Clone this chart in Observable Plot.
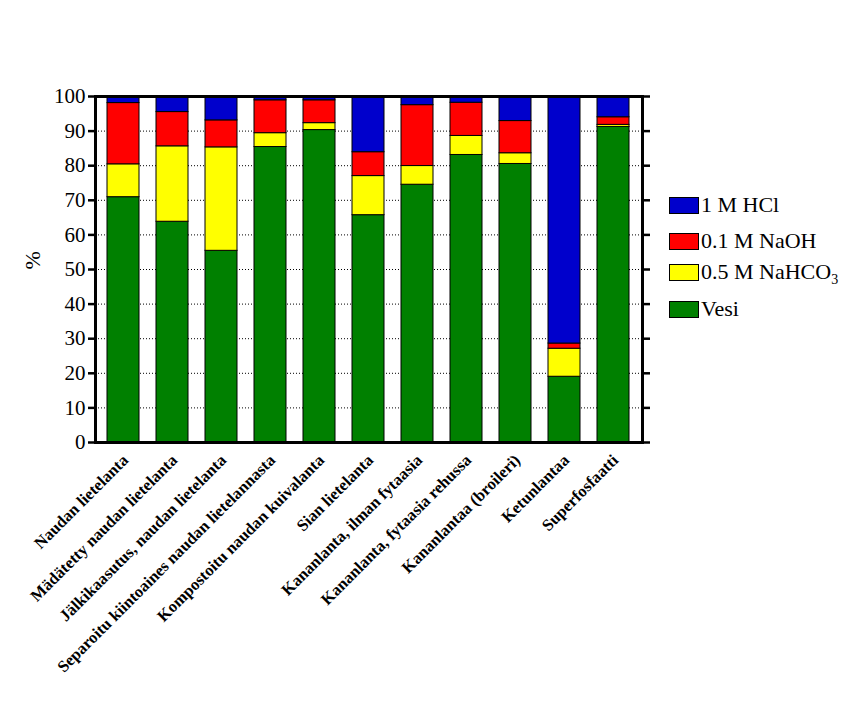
<!DOCTYPE html>
<html>
<head>
<meta charset="utf-8">
<script src="https://cdn.jsdelivr.net/npm/d3@7"></script>
<script src="https://cdn.jsdelivr.net/npm/@observablehq/plot@0.6"></script>
<style>
  body { margin: 0; background: #fff; }
  #wrap { position: relative; width: 856px; height: 710px; font-family: "Liberation Serif", serif; }
  #wrap svg, #wrap svg text { font-family: "Liberation Serif", serif !important; }
  .leg { position: absolute; left: 669px; display: flex; align-items: center; height: 26px;
         font-family: "Liberation Serif", serif; font-size: 22px; color: #000; white-space: nowrap; }
  .leg span { font-family: "Liberation Serif", serif; }
  .sw { width: 28px; height: 15px; border: 1px solid #000; margin-right: 2px; }
  sub { font-size: 14px; vertical-align: -5px; line-height: 0; font-family: "Liberation Serif", serif; }
</style>
</head>
<body>
<div id="wrap"></div>
<script>
const categories = [
  "Naudan lietelanta",
  "Mädätetty naudan lietelanta",
  "Jälkikaasutus, naudan lietelanta",
  "Separoitu kiintoaines naudan lietelannasta",
  "Kompostoitu naudan kuivalanta",
  "Sian lietelanta",
  "Kananlanta, ilman fytaasia",
  "Kananlanta, fytaasia rehussa",
  "Kananlantaa (broileri)",
  "Ketunlantaa",
  "Superfosfaatti"
];
const seriesNames = ["Vesi", "0.5 M NaHCO3", "0.1 M NaOH", "1 M HCl"];
const seriesColors = ["#008000", "#FFFF00", "#FF0000", "#0000CC"];
const vesi   = [70.9, 63.8, 55.4, 85.4, 90.3, 65.7, 74.5, 83.1, 80.5, 19.0, 91.2];
const nahco3 = [9.5, 21.8, 29.9, 4.0, 2.0, 11.3, 5.4, 5.5, 3.1, 8.1, 0.6];
const naoh   = [17.7, 9.9, 7.8, 9.5, 6.6, 6.9, 17.6, 9.6, 9.3, 1.5, 2.2];
const hcl    = [1.9, 4.5, 6.9, 1.1, 1.1, 16.1, 2.5, 1.8, 7.1, 71.4, 6.0];
const yTicks = [0, 10, 20, 30, 40, 50, 60, 70, 80, 90, 100];
const gridTicks = [10, 20, 30, 40, 50, 60, 70, 80, 90];

const seriesValues = [vesi, nahco3, naoh, hcl];
const data = [];
seriesNames.forEach((s, si) => {
  categories.forEach((c, ci) => data.push({cat: c, series: s, value: seriesValues[si][ci]}));
});

const serif = "Liberation Serif";

const chart = Plot.plot({
  width: 856,
  height: 710,
  marginLeft: 95,
  marginRight: 214,
  marginTop: 96,
  marginBottom: 268,
  style: {fontFamily: serif, background: "#fff", color: "#000"},
  x: {domain: categories, paddingInner: 0.34, paddingOuter: 0.16, axis: null},
  y: {domain: [0, 100], axis: null},
  color: {domain: seriesNames, range: seriesColors},
  marks: [
    Plot.gridY(gridTicks, {stroke: "#000", strokeOpacity: 1, strokeWidth: 1, strokeDasharray: "1,2"}),
    Plot.barY(data, {x: "cat", y: "value", fill: "series", order: seriesNames, stroke: "#000", strokeWidth: 1}),
    Plot.frame({stroke: "#000", strokeWidth: 3}),
    Plot.axisY({ticks: yTicks, tickSize: 7, tickPadding: 3, strokeWidth: 2.5, fontSize: 21, fontFamily: serif, label: null}),
    Plot.axisY({anchor: "right", ticks: yTicks, tickSize: 7, strokeWidth: 2.5, tickFormat: () => "", label: null}),
    Plot.text(["%"], {frameAnchor: "left", dx: -63, rotate: -90, fontSize: 22, fontFamily: serif}),
    Plot.text(categories, {x: d => d, frameAnchor: "bottom", dy: 15, dx: 2, rotate: -45, textAnchor: "end", lineAnchor: "middle", fontSize: 16.5, fontWeight: "bold", fontFamily: serif})
  ]
});

const wrap = document.getElementById("wrap");
wrap.appendChild(chart);

const legendRows = [
  {label: "1 M HCl", color: "#0000CC", cy: 205},
  {label: "0.1 M NaOH", color: "#FF0000", cy: 241},
  {label: "0.5 M NaHCO<sub>3</sub>", color: "#FFFF00", cy: 272},
  {label: "Vesi", color: "#008000", cy: 309}
];
legendRows.forEach(r => {
  const div = document.createElement("div");
  div.className = "leg";
  div.style.top = (r.cy - 13) + "px";
  div.innerHTML = `<span class="sw" style="background:${r.color}"></span><span>${r.label}</span>`;
  wrap.appendChild(div);
});
</script>
</body>
</html>
